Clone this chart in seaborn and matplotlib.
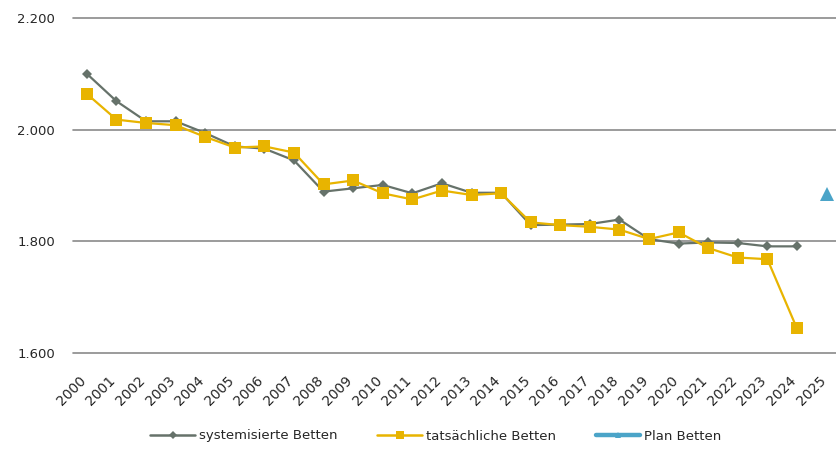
import matplotlib
matplotlib.use("Agg")
import matplotlib.pyplot as plt
import matplotlib.transforms as mtransforms
import seaborn as sns
import pandas as pd
from matplotlib.lines import Line2D

years = list(range(2000, 2026))
systemisiert = [2100, 2051, 2015, 2015, 1994, 1970, 1966, 1945, 1889, 1895,
                1901, 1886, 1904, 1887, 1887, 1829, 1830, 1831, 1839, 1804,
                1796, 1798, 1797, 1791, 1791]
tatsaechlich = [2064, 2018, 2012, 2008, 1987, 1968, 1970, 1959, 1902, 1909,
                1886, 1875, 1891, 1883, 1886, 1834, 1829, 1826, 1821, 1804,
                1816, 1788, 1771, 1768, 1644]
plan_years = [2025]
plan = [1884]

y_ticks = [1600, 1800, 2000, 2200]
y_labels = ["1.600", "1.800", "2.000", "2.200"]
series_names = ["systemisierte Betten", "tatsächliche Betten", "Plan Betten"]

c_sys = "#66726a"
c_tat = "#e8b400"
c_plan = "#4ba4c8"
c_text = "#262626"
c_grid = "#8a8a8a"

sns.set_theme(style="white")
plt.rcParams["font.family"] = ["DejaVu Sans"]

df_sys = pd.DataFrame({"Jahr": years[:len(systemisiert)], "Betten": systemisiert})
df_tat = pd.DataFrame({"Jahr": years[:len(tatsaechlich)], "Betten": tatsaechlich})
df_plan = pd.DataFrame({"Jahr": plan_years, "Betten": plan})

fig = plt.figure(figsize=(8.36, 4.49), dpi=100)
ax = fig.add_axes([73 / 836, 1 - 353 / 449, 1 - 73 / 836, (353 - 18) / 449])

sns.lineplot(data=df_sys, x="Jahr", y="Betten", ax=ax, color=c_sys, lw=1.6,
             marker="D", markersize=5.6, markeredgewidth=0, zorder=3)
sns.lineplot(data=df_tat, x="Jahr", y="Betten", ax=ax, color=c_tat, lw=1.6,
             marker="s", markersize=8, markeredgewidth=0, zorder=4)
sns.lineplot(data=df_plan, x="Jahr", y="Betten", ax=ax, color=c_plan, lw=3,
             marker="^", markersize=10, markeredgewidth=0, zorder=5)

ax.set_xlim(1999.53, 2025.32)
ax.set_ylim(1600, 2200)
ax.set_yticks(y_ticks)
ax.set_yticklabels(y_labels)
ax.set_xticks(years)
ax.set_xticklabels([str(y) for y in years], rotation=45, ha="right", va="center",
                   rotation_mode="anchor")
ax.tick_params(axis="y", length=0, pad=13, labelsize=9.5, labelcolor=c_text)
ax.tick_params(axis="x", length=0, pad=18, labelsize=10, labelcolor=c_text)
shift = mtransforms.ScaledTranslation(-3 / 100, 0, fig.dpi_scale_trans)
for lbl in ax.get_xticklabels():
    lbl.set_transform(lbl.get_transform() + shift)
ax.set_xlabel("")
ax.set_ylabel("")
for s in ax.spines.values():
    s.set_visible(False)
ax.grid(axis="y", color=c_grid, lw=1.2)
ax.grid(axis="x", visible=False)
for gl in ax.get_ygridlines():
    gl.set_clip_on(False)
ax.set_axisbelow(True)

handles = [
    Line2D([], [], color=c_sys, lw=1.8, marker="D", markersize=4, markeredgewidth=0),
    Line2D([], [], color=c_tat, lw=1.8, marker="s", markersize=6, markeredgewidth=0),
    Line2D([], [], color=c_plan, lw=3.2, marker="^", markersize=5, markeredgewidth=0),
]
fig.legend(handles, series_names, loc="center", bbox_to_anchor=(436 / 836, 1 - 436 / 449),
           ncol=3, frameon=False, fontsize=9.5, handlelength=3.4, handletextpad=0.3,
           columnspacing=3.0, labelcolor=c_text)

fig.savefig("out.png", dpi=100)
